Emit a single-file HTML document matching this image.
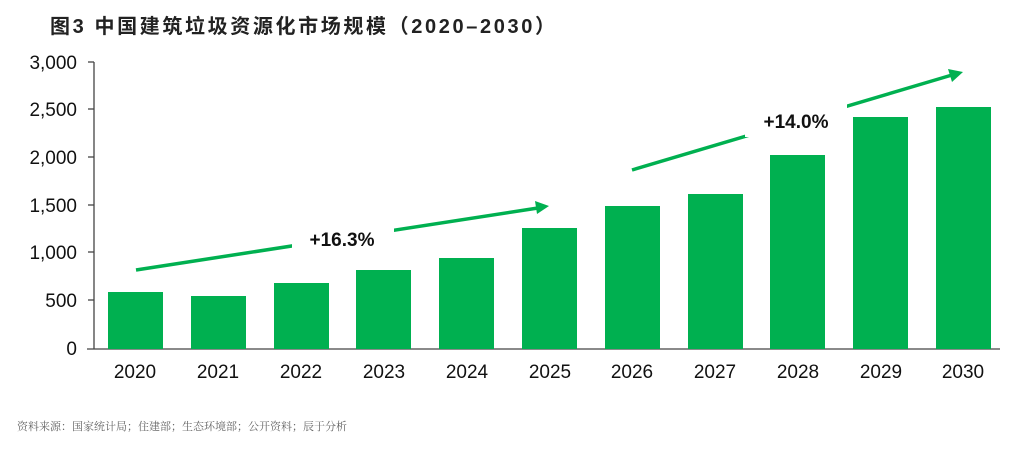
<!DOCTYPE html>
<html><head><meta charset="utf-8"><style>body{margin:0;background:#fff}</style></head><body>
<svg width="1024" height="447" viewBox="0 0 1024 447" xmlns="http://www.w3.org/2000/svg" font-family="Liberation Sans, Noto Sans CJK SC, sans-serif">
<text x="50" y="33" font-size="20" font-weight="bold" fill="#222" textLength="505" lengthAdjust="spacing" font-family="Liberation Sans, Noto Sans CJK SC, sans-serif">图3 中国建筑垃圾资源化市场规模（2020–2030）</text>
<g font-size="19" fill="#111" text-anchor="end">
<text x="77" y="69">3,000</text><text x="77" y="116">2,500</text><text x="77" y="164">2,000</text><text x="77" y="212">1,500</text><text x="77" y="259">1,000</text><text x="77" y="307">500</text><text x="77" y="355">0</text>
</g>
<g stroke="#444" stroke-width="1.3">
<line x1="94" y1="62" x2="94" y2="349"/><line x1="87" y1="349" x2="1000" y2="349"/>
<line x1="88" y1="62" x2="94" y2="62"/><line x1="88" y1="109" x2="94" y2="109"/><line x1="88" y1="157" x2="94" y2="157"/><line x1="88" y1="205" x2="94" y2="205"/><line x1="88" y1="252" x2="94" y2="252"/><line x1="88" y1="300" x2="94" y2="300"/>
</g>
<g fill="#00b050">
<rect x="108" y="292" width="55" height="57"/>
<rect x="191" y="296" width="55" height="53"/>
<rect x="274" y="283" width="55" height="66"/>
<rect x="356" y="270" width="55" height="79"/>
<rect x="439" y="258" width="55" height="91"/>
<rect x="522" y="228" width="55" height="121"/>
<rect x="605" y="206" width="55" height="143"/>
<rect x="688" y="194" width="55" height="155"/>
<rect x="770" y="155" width="55" height="194"/>
<rect x="853" y="117" width="55" height="232"/>
<rect x="936" y="107" width="55" height="242"/>
</g>
<g font-size="19" fill="#111" text-anchor="middle">
<text x="135" y="378">2020</text><text x="218" y="378">2021</text><text x="301" y="378">2022</text><text x="384" y="378">2023</text><text x="467" y="378">2024</text><text x="550" y="378">2025</text><text x="632" y="378">2026</text><text x="715" y="378">2027</text><text x="798" y="378">2028</text><text x="881" y="378">2029</text><text x="963" y="378">2030</text>
</g>
<g stroke="#00b050" stroke-width="3.5" fill="#00b050">
<line x1="136" y1="270" x2="538" y2="208"/>
<line x1="632" y1="170" x2="952" y2="75"/>
</g>
<polygon points="549,206 535,201 537,214" fill="#00b050"/>
<polygon points="963,72 948,69 952,82" fill="#00b050"/>
<rect x="292" y="222" width="102" height="34" fill="#fff"/>
<rect x="745" y="103" width="102" height="34" fill="#fff"/>
<text x="342" y="246" font-size="19" font-weight="bold" fill="#111" text-anchor="middle">+16.3%</text>
<text x="796" y="128" font-size="19" font-weight="bold" fill="#111" text-anchor="middle">+14.0%</text>
<text x="17" y="430" font-size="11" fill="#666" font-family="Liberation Serif, Noto Serif CJK SC, serif">资料来源：国家统计局；住建部；生态环境部；公开资料；辰于分析</text>
</svg>
</body></html>
